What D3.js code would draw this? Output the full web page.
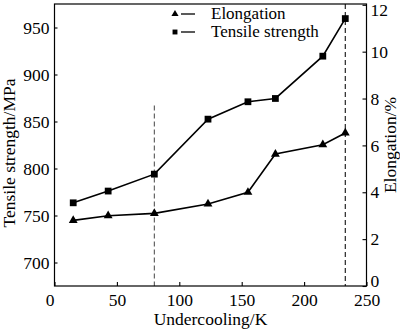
<!DOCTYPE html>
<html>
<head>
<meta charset="utf-8">
<script src="https://cdn.jsdelivr.net/npm/d3@7"></script>
<style>
  html, body { margin: 0; padding: 0; background: #fff; }
  svg { display: block; }
</style>
</head>
<body>
<svg id="chart" width="400" height="330"></svg>
<script>
// ---- data ----
const undercooling = [15, 43, 80, 123, 155, 177, 215, 233];
const tensileStrength = [763.5, 776, 794, 852.5, 871, 874.5, 919.5, 959.5];
const elongation = [2.8, 3.0, 3.1, 3.5, 4.0, 5.63, 6.03, 6.53];
const xTicks = [0, 50, 100, 150, 200, 250];
const leftTicks = [700, 750, 800, 850, 900, 950];
const rightTicks = [0, 2, 4, 6, 8, 10, 12];
const dashedMarks = [{ x: 80, top: 867, color: "#555" }, { x: 233, top: 975, color: "#111" }];
const legendItems = ["Elongation", "Tensile strength"];

const FONT = "Liberation Serif";
const svg = d3.select("#chart").attr("font-family", FONT);
const L = 54.5, R = 366.5, T = 4, B = 286;

const x = d3.scaleLinear().domain([0, 250]).range([L, R]);
const yL = d3.scaleLinear().domain([675, 975]).range([B, T]);
const yR = d3.scaleLinear().domain([0, 12]).range([B, 4.8]);

const fs = 17.5;

// dashed lines
dashedMarks.forEach(d => {
  svg.append("line")
    .attr("x1", x(d.x)).attr("x2", x(d.x))
    .attr("y1", yL(d.top)).attr("y2", B)
    .attr("stroke", d.color).attr("stroke-width", 1.1)
    .attr("stroke-dasharray", "5,3");
});

// axes
const xAxis = d3.axisBottom(x).tickValues(xTicks).tickSize(-4).tickPadding(7).tickFormat(d3.format("d"));
const gx = svg.append("g").attr("transform", `translate(0,${B})`).call(xAxis);
gx.select(".domain").remove();
gx.selectAll("text").attr("dy", "0.75em").attr("dx", d => d === 0 ? -5 : 0);

const lAxis = d3.axisLeft(yL).tickValues(leftTicks).tickSize(-3).tickPadding(5);
const gl = svg.append("g").attr("transform", `translate(${L},0)`).call(lAxis);
gl.select(".domain").remove();

const rAxis = d3.axisRight(yR).tickValues(rightTicks).tickSize(-4).tickPadding(4);
const gr = svg.append("g").attr("transform", `translate(${R},0)`).call(rAxis);
gr.select(".domain").remove();
gr.selectAll("text")
  .attr("dy", d => d === 0 ? "0.05em" : d === 12 ? "0.6em" : "0.32em");

[gx, gl, gr].forEach(g => g.attr("font-family", FONT).attr("font-size", fs));
svg.selectAll(".tick text").attr("font-family", FONT).attr("font-size", fs).attr("fill", "#000");
svg.selectAll(".tick line").attr("stroke", "#000").attr("stroke-width", 1.1);

// frame
svg.append("rect").attr("x", L).attr("y", T).attr("width", R - L).attr("height", B - T)
  .attr("fill", "none").attr("stroke", "#000").attr("stroke-width", 1.2);

// lines
const lineTS = d3.line().x((d, i) => x(undercooling[i])).y(d => yL(d));
const lineEL = d3.line().x((d, i) => x(undercooling[i])).y(d => yR(d));
svg.append("path").datum(tensileStrength).attr("d", lineTS)
  .attr("fill", "none").attr("stroke", "#000").attr("stroke-width", 1.6);
svg.append("path").datum(elongation).attr("d", lineEL)
  .attr("fill", "none").attr("stroke", "#000").attr("stroke-width", 1.6);

const sq = d3.symbol().type(d3.symbolSquare).size(46);
const tri = d3.symbol().type(d3.symbolTriangle).size(34);
svg.selectAll(".sq").data(tensileStrength).join("path")
  .attr("d", sq).attr("fill", "#000")
  .attr("transform", (d, i) => `translate(${x(undercooling[i])},${yL(d)})`);
svg.selectAll(".tri").data(elongation).join("path")
  .attr("d", tri).attr("fill", "#000")
  .attr("transform", (d, i) => `translate(${x(undercooling[i])},${yR(d)})`);

// legend
const lg = svg.append("g");
legendItems.forEach((name, i) => {
  const cy = 14 + i * 18;
  lg.append("path").attr("d", (i === 0 ? d3.symbol().type(d3.symbolTriangle).size(22) : d3.symbol().type(d3.symbolSquare).size(24))())
    .attr("transform", `translate(175,${cy})`).attr("fill", "#000");
  lg.append("line").attr("x1", 181).attr("x2", 195).attr("y1", cy).attr("y2", cy)
    .attr("stroke", "#000").attr("stroke-width", 1.3);
  lg.append("text").attr("x", 211).attr("y", cy).attr("dy", "0.3em")
    .attr("font-family", FONT).attr("font-size", 17).text(name);
});

// axis titles
svg.append("text").attr("x", (L + R) / 2 + 0).attr("y", 324.5)
  .attr("text-anchor", "middle").attr("font-family", FONT).attr("font-size", fs).text("Undercooling/K");
svg.append("text").attr("transform", `translate(15,${(T + B) / 2 + 8}) rotate(-90)`)
  .attr("text-anchor", "middle").attr("font-family", FONT).attr("font-size", fs).text("Tensile strength/MPa");
svg.append("text").attr("transform", `translate(396,${(T + B) / 2}) rotate(-90)`)
  .attr("text-anchor", "middle").attr("font-family", FONT).attr("font-size", fs).text("Elongation/%");
</script>
</body>
</html>
